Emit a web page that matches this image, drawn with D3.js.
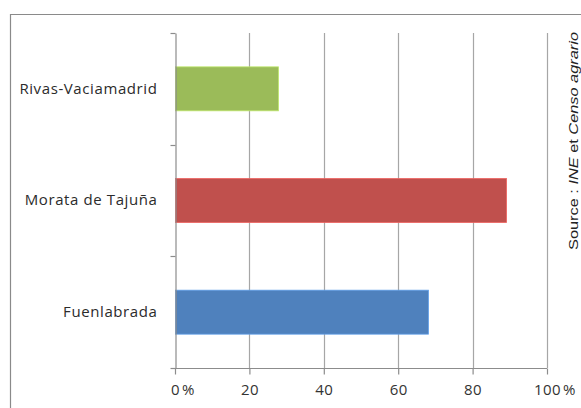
<!DOCTYPE html>
<html>
<head>
<meta charset="utf-8">
<script src="https://cdn.jsdelivr.net/npm/d3@7"></script>
<style>
  html, body { margin: 0; padding: 0; background: #fff; }
  svg { display: block; }
</style>
</head>
<body>
<svg id="chart" width="581" height="408"></svg>
<script>
const categories = ["Rivas-Vaciamadrid", "Morata de Tajuña", "Fuenlabrada"];
const values = [27.7, 89.0, 68.0];
const barColors = ["#9BBB59", "#C0504D", "#4F81BD"];
const xTicks = [0, 20, 40, 60, 80, 100];
const sourceParts = [
  { text: "Source : ", italic: false },
  { text: "INE", italic: true },
  { text: " et ", italic: false },
  { text: "Censo agrario", italic: true }
];

(function () {
const svg = d3.select("#chart");
const W = 581, H = 408;
const pLeft = 175, pRight = 547, pTop = 33, pBottom = 368;
const labelFont = "'Open Sans', sans-serif";

// frame
svg.append("path")
  .attr("d", `M10.5,${H + 2}V14.5H${W + 2}`)
  .attr("fill", "none").attr("stroke", "#8a8a8a").attr("stroke-width", 1.2);

const x = d3.scaleLinear().domain([0, 100]).range([pLeft, pRight]);
const y = d3.scaleBand().domain(categories).range([pTop, pBottom])
  .paddingInner(0.606).paddingOuter(0.303);

// gridlines
svg.append("g").selectAll("line")
  .data(xTicks.filter(d => d > 0))
  .join("line")
  .attr("x1", d => Math.round(x(d)) + 0.5).attr("x2", d => Math.round(x(d)) + 0.5)
  .attr("y1", pTop).attr("y2", pBottom)
  .attr("stroke", "#a6a6a6").attr("stroke-width", 1.2);

// bars
svg.append("g").selectAll("rect")
  .data(categories)
  .join("rect")
  .attr("x", x(0) + 0.5)
  .attr("y", d => y(d))
  .attr("width", (d, i) => x(values[i]) - x(0))
  .attr("height", y.bandwidth())
  .attr("fill", (d, i) => barColors[i])
  .attr("stroke", (d, i) => d3.color(barColors[i]).brighter(0.6))
  .attr("stroke-width", 0.8);

// x axis
const xAxis = svg.append("g")
  .attr("transform", `translate(0,${pBottom + 0.5})`)
  .call(d3.axisBottom(x).tickValues(xTicks).tickSize(6).tickSizeOuter(0).tickPadding(10)
    .tickFormat(d3.format("d")));
xAxis.select(".domain").attr("stroke", "#8c8c8c").attr("stroke-width", 1.2)
  .attr("d", `M${pLeft - 3},0H${pRight}`);
xAxis.selectAll(".tick line").attr("stroke", "#8c8c8c").attr("stroke-width", 1.2);
xAxis.selectAll(".tick text")
  .attr("font-family", labelFont).attr("font-size", 15)
  .attr("letter-spacing", 0.4)
  .attr("fill", "#333");
xAxis.selectAll(".tick").filter(d => d === 0 || d === 100).each(function() {
  const t = d3.select(this).select("text");
  const bb = t.node().getBBox();
  d3.select(this).append("text")
    .attr("x", bb.x + bb.width + 2)
    .attr("y", t.attr("y")).attr("dy", t.attr("dy"))
    .attr("font-family", labelFont).attr("font-size", 15)
    .attr("fill", "#333").attr("text-anchor", "start")
    .text("%");
});

// y axis
const yAxis = svg.append("g")
  .attr("transform", `translate(${pLeft + 0.5},0)`)
  .call(d3.axisLeft(y).tickSize(0).tickSizeOuter(0).tickPadding(18));
yAxis.select(".domain").attr("stroke", "#8c8c8c").attr("stroke-width", 1.2);
yAxis.selectAll(".tick text")
  .attr("font-family", labelFont).attr("font-size", 15)
  .attr("letter-spacing", 0.6)
  .attr("fill", "#2b2b2b");
const step = y.step();
const bounds = categories.map(c => y(c) - (step - y.bandwidth()) / 2).concat([pBottom]);
yAxis.append("g").selectAll("line")
  .data(bounds)
  .join("line")
  .attr("x1", -5).attr("x2", 0)
  .attr("y1", d => Math.round(d) + 0.5).attr("y2", d => Math.round(d) + 0.5)
  .attr("stroke", "#8c8c8c").attr("stroke-width", 1.2);

// source
const src = svg.append("text")
  .attr("transform", `translate(578,141) rotate(-90)`)
  .attr("text-anchor", "middle")
  .attr("font-family", "'Liberation Sans', Arial, sans-serif")
  .attr("font-size", 12)
  .attr("fill", "#222")
  .attr("textLength", 218).attr("lengthAdjust", "spacingAndGlyphs");
src.selectAll("tspan").data(sourceParts).join("tspan")
  .attr("font-style", d => d.italic ? "italic" : "normal")
  .text(d => d.text);
})();
</script>
</body>
</html>
